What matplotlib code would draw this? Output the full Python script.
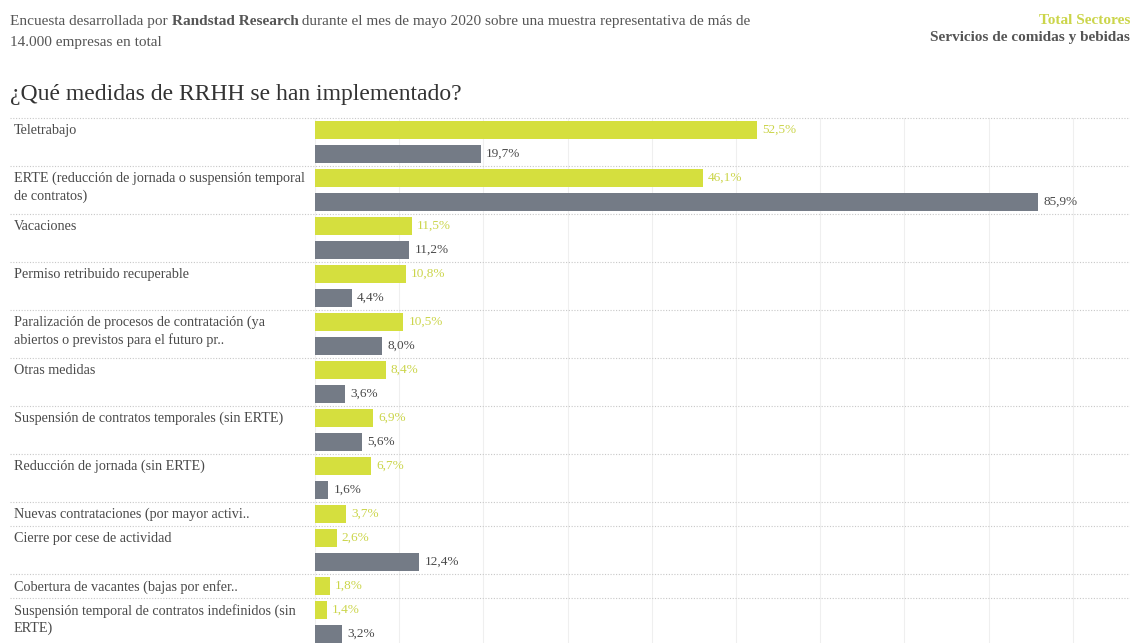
import matplotlib
matplotlib.use("Agg")
import matplotlib.pyplot as plt
import matplotlib.transforms as mtransforms

# datos de la encuesta
categorias = [
    "Teletrabajo",
    "ERTE (reducción de jornada o suspensión temporal\nde contratos)",
    "Vacaciones",
    "Permiso retribuido recuperable",
    "Paralización de procesos de contratación (ya\nabiertos o previstos para el futuro pr..",
    "Otras medidas",
    "Suspensión de contratos temporales (sin ERTE)",
    "Reducción de jornada (sin ERTE)",
    "Nuevas contrataciones (por mayor activi..",
    "Cierre por cese de actividad",
    "Cobertura de vacantes (bajas por enfer..",
    "Suspensión temporal de contratos indefinidos (sin\nERTE)",
]
total_sectores = [52.5, 46.1, 11.5, 10.8, 10.5, 8.4, 6.9, 6.7, 3.7, 2.6, 1.8, 1.4]
comidas_bebidas = [19.7, 85.9, 11.2, 4.4, 8.0, 3.6, 5.6, 1.6, 0, 12.4, 0, 3.2]

VERDE = "#d5df3e"
VERDE_TXT = "#cbd54a"
GRIS = "#747b86"
TXT = "#4a4a4a"
FUENTE = "Liberation Serif"

W, H = 1130, 643
x0 = 315          # inicio de las barras (px)
px_pct = 8.42     # px por punto porcentual
y_top = 118
slot_px = 24

# posiciones de cada barra (en "huecos" de 24 px)
filas = []
pos = 0
for t, c in zip(total_sectores, comidas_bebidas):
    filas.append(pos)
    pos += 2 if c > 0 else 1
n_slots = pos

fig = plt.figure(figsize=(W / 100, H / 100), dpi=100)
alto_ax = n_slots * slot_px
ax = fig.add_axes([x0 / W, (H - y_top - alto_ax) / H, (W - x0) / W, alto_ax / H])
ax.set_xlim(0, (W - x0) / px_pct)
ax.set_ylim(n_slots, 0)
ax.set_xticks(range(0, 100, 10))
ax.set_yticks([])
ax.tick_params(axis="x", length=0, labelbottom=False)
ax.grid(axis="x", color="#efefef", linewidth=0.8)
ax.set_axisbelow(True)
for s in ax.spines.values():
    s.set_visible(False)

trans = mtransforms.blended_transform_factory(fig.transFigure, ax.transData)
off = 5 / px_pct
alto_barra = 18 / slot_px

for cat, t, c, p in zip(categorias, total_sectores, comidas_bebidas, filas):
    # separador punteado
    ax.plot([10 / W, 1.0], [p, p], transform=trans, clip_on=False,
            color="#c8c8c8", linewidth=0.8, linestyle=(0, (1, 1.5)), zorder=1)
    ax.text(14 / W, p + 6 / slot_px, cat, transform=trans, ha="left", va="top",
            fontsize=10.2, family=FUENTE, color=TXT, linespacing=1.35)
    ax.barh(p + 0.5, t, height=alto_barra, color=VERDE, zorder=2)
    ax.text(t + off, p + 0.5, f"{t:.1f}%".replace(".", ","), va="center",
            fontsize=9.5, family=FUENTE, color=VERDE_TXT)
    if c > 0:
        ax.barh(p + 1.5, c, height=alto_barra, color=GRIS, zorder=2)
        ax.text(c + off, p + 1.5, f"{c:.1f}%".replace(".", ","), va="center",
                fontsize=9.5, family=FUENTE, color=TXT)

# cabecera
renderer = fig.canvas.get_renderer()
partes = [("Encuesta desarrollada por ", "normal"), ("Randstad Research", "bold"),
          (" durante el mes de mayo 2020 sobre una muestra representativa de más de", "normal")]
x = 10
for txt, peso in partes:
    t_obj = fig.text(x / W, 1 - 25 / H, txt, ha="left", va="baseline", fontsize=11,
                     family=FUENTE, weight=peso, color="#555555")
    bb = t_obj.get_window_extent(renderer)
    x += bb.width
fig.text(10 / W, 1 - 46 / H, "14.000 empresas en total", ha="left", va="baseline",
         fontsize=11, family=FUENTE, color="#555555")

fig.text(1130 / W, 1 - 24 / H, "Total Sectores", ha="right", va="baseline",
         fontsize=11, family=FUENTE, weight="bold", color=VERDE_TXT)
fig.text(1130 / W, 1 - 41 / H, "Servicios de comidas y bebidas", ha="right", va="baseline",
         fontsize=11, family=FUENTE, weight="bold", color="#555555")

fig.text(10 / W, 1 - 100 / H, "¿Qué medidas de RRHH se han implementado?", ha="left",
         va="baseline", fontsize=17, family=FUENTE, color="#333333")

fig.savefig("out.png", dpi=100)
